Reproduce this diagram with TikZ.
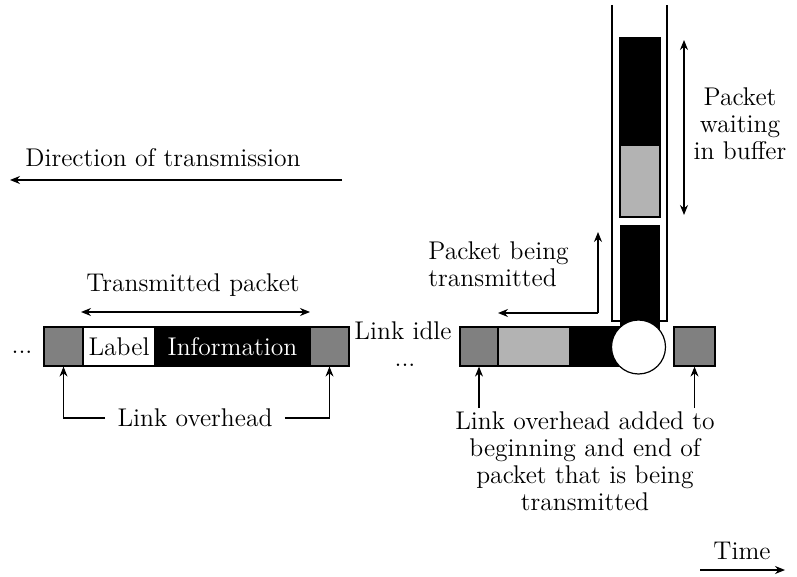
\documentclass[tikz,border=0pt]{standalone}
\usetikzlibrary{arrows.meta}
\definecolor{ovgray}{HTML}{808080}
\definecolor{pktgray}{HTML}{B3B3B3}
\tikzset{
  cell/.style={draw=black, line width=0.6pt, inner sep=0pt, minimum height=19.5pt},
  lbl/.style={font=\fontsize{12.8}{13.5}\selectfont, inner sep=0pt},
  conn/.style={line width=0.6pt, -{Stealth[length=5pt,width=4pt]}},
  bconn/.style={line width=0.6pt, {Stealth[length=5pt,width=4pt]}-{Stealth[length=5pt,width=4pt]}},
}
\begin{document}
\begin{tikzpicture}[x=0.5pt, y=-0.5pt]
\useasboundingbox (0,0) rectangle (797,577);

% ---- transmitted packet on the left ----
\node[cell, fill=ovgray, minimum width=19.5pt] (lg) at (63.5,346.5) {};
\node[cell, fill=white, minimum width=36pt, lbl] (lab) at (119,346.5) {Label};
\node[cell, fill=black, minimum width=77.5pt, lbl, text=white] (info) at (232.5,346.5) {Information};
\node[cell, fill=ovgray, minimum width=19.5pt] (rg) at (329.5,346.5) {};
\node[lbl] (dotsl) at (22,352) {...};

\coordinate (tpa) at (81,312);
\coordinate (tpb) at (310,312);
\draw[bconn] (tpa) -- (tpb);
\node[lbl] (tptext) at (193,285) {Transmitted packet};

\node[lbl] (lo) at (195,418) {Link overhead};
\draw[conn] (lo.west) ++(-6pt,0) -| (lg.south);
\draw[conn] (lo.east) ++(6pt,0) -| (rg.south);

% ---- direction of transmission ----
\coordinate (dira) at (342,180);
\coordinate (dirb) at (10,180);
\draw[conn] (dira) -- (dirb);
\node[lbl] (dirtext) at (163,158) {Direction of transmission};

% ---- buffer tube ----
\coordinate (tl) at (612,5);
\coordinate (tr) at (667,5);
\draw[line width=0.6pt] (tl) -- (612,321) -- (667,321) -- (tr);
\node[cell, fill=black, minimum width=20pt, minimum height=53.5pt] (b1) at (640,91.5) {};
\node[cell, fill=pktgray, minimum width=20pt, minimum height=36pt] (b2) at (640,181) {};
\node[cell, fill=black, draw=none, minimum width=20pt, minimum height=61pt] (b3) at (640,286) {};

% ---- packet being transmitted ----
\node[cell, fill=ovgray, minimum width=19pt] (g1) at (479,346.5) {};
\node[cell, fill=pktgray, minimum width=36pt] (p1) at (534,346.5) {};
\node[cell, fill=black, minimum width=35pt] (p2) at (605,346.5) {};
\node[circle, draw=black, fill=white, line width=0.6pt, minimum size=27pt, inner sep=0pt] (srv) at (638.5,347) {};
\node[cell, fill=ovgray, minimum width=20.5pt] (g3) at (694.5,346.5) {};

\node[lbl] (idle) at (403,331) {Link idle};
\node[lbl] (dotsr) at (405,365) {...};

% buffer label
\coordinate (bua) at (684,40);
\coordinate (bub) at (684,215);
\draw[bconn] (bua) -- (bub);
\node[lbl, align=center] (butext) at (740,124) {Packet\\waiting\\in buffer};

% packet being transmitted label
\coordinate (pbc) at (598,313);
\coordinate (pbu) at (598,232);
\coordinate (pbl) at (498,313);
\draw[conn] (pbc) -- (pbu);
\draw[conn] (pbc) -- (pbl);
\node[lbl, align=left, anchor=west] (pbtext) at (428,264) {Packet being\\transmitted};

% overhead added
\node[lbl, align=center] (oa) at (585,461) {Link overhead added to\\beginning and end of\\packet that is being\\transmitted};
\coordinate (oa1) at (479,408);
\coordinate (oa2) at (694.5,408);
\draw[conn] (oa1) -- (g1.south);
\draw[conn] (oa2) -- (g3.south);

% time axis
\node[lbl] (time) at (742,551) {Time};
\coordinate (ta) at (700,570);
\coordinate (tb) at (785,570);
\draw[conn] (ta) -- (tb);
\end{tikzpicture}
\end{document}
